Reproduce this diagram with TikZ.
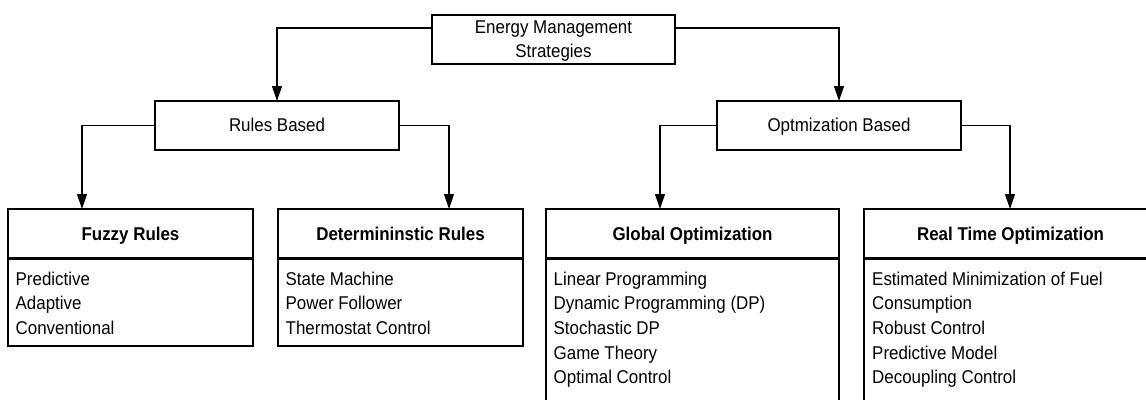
\documentclass[tikz,border=0pt]{standalone}
\usepackage{fontspec}
\setmainfont{Liberation Sans}[FakeStretch=0.915]
\usetikzlibrary{arrows.meta}
\begin{document}
\begin{tikzpicture}[x=1pt,y=-1pt,
  box/.style={draw=black, line width=1.2pt, inner sep=0pt, outer sep=0pt},
  lbl/.style={font=\fontsize{18.5pt}{24pt}\selectfont, inner sep=0pt, anchor=base},
  head/.style={font=\fontsize{18.5pt}{24pt}\selectfont\bfseries, inner sep=0pt, anchor=base},
  item/.style={font=\fontsize{18.5pt}{24pt}\selectfont, inner sep=0pt, anchor=base west},
  sepline/.style={line width=2.2pt},
  arr/.style={line width=1.2pt, -{Triangle[length=15pt,width=10pt]}}]
\useasboundingbox (0,0) rectangle (1146,399);
\clip (0,0) rectangle (1146,399);
% boxes
\node[box, minimum width=243pt, minimum height=49pt] (top) at (553.5,39.5) {};
\node[box, minimum width=244pt, minimum height=49pt] (rules) at (277,125.5) {};
\node[box, minimum width=244pt, minimum height=49pt] (opt) at (839,125.5) {};
\node[box, minimum width=245pt, minimum height=137pt] (fuzzy) at (130.5,277.5) {};
\node[box, minimum width=245pt, minimum height=137pt] (det) at (400.5,277.5) {};
\node[box, minimum width=293pt, minimum height=211pt] (glob) at (692.5,314.5) {};
\node[box, minimum width=293pt, minimum height=211pt] (rt) at (1010.5,314.5) {};
% header separators
\draw[sepline] (fuzzy.west |- 0,258.5) -- (fuzzy.east |- 0,258.5);
\draw[sepline] (det.west |- 0,258.5) -- (det.east |- 0,258.5);
\draw[sepline] (glob.west |- 0,258.5) -- (glob.east |- 0,258.5);
\draw[sepline] (rt.west |- 0,258.5) -- (rt.east |- 0,258.5);
% labels
\node[lbl] (t1) at (553.5,33.3) {Energy Management};
\node[lbl] (t2) at (553.5,57.3) {Strategies};
\node[lbl] (rl) at (277,131.5) {Rules Based};
\node[lbl] (ol) at (839,131.5) {Optmization Based};
\node[head] (fh) at (130.5,240.5) {Fuzzy Rules};
\node[head] (dh) at (400.5,240.5) {Determininstic Rules};
\node[head] (gh) at (692.5,240.5) {Global Optimization};
\node[head] (rh) at (1010.5,240.5) {Real Time Optimization};
% items
\foreach \t [count=\i] in {Predictive,Adaptive,Conventional}
  \node[item] (fi\i) at (15.5,{285+24.7*(\i-1)}) {\t};
\foreach \t [count=\i] in {State Machine,Power Follower,Thermostat Control}
  \node[item] (di\i) at (285.5,{285+24.7*(\i-1)}) {\t};
\foreach \t [count=\i] in {Linear Programming,Dynamic Programming (DP),Stochastic DP,Game Theory,Optimal Control}
  \node[item] (gi\i) at (553.5,{285+24.7*(\i-1)}) {\t};
\foreach \t [count=\i] in {Estimated Minimization of Fuel,Consumption,Robust Control,Predictive Model,Decoupling Control}
  \node[item] (ri\i) at (872,{285+24.7*(\i-1)}) {\t};
% connectors
\draw[arr] ([yshift=11.5pt]top.west) -| (rules.north);
\draw[arr] ([yshift=11.5pt]top.east) -| (opt.north);
\draw[arr] (rules.west) -| ([xshift=-48.5pt]fuzzy.north);
\draw[arr] (rules.east) -| ([xshift=48.5pt]det.north);
\draw[arr] (opt.west) -| ([xshift=-32.5pt]glob.north);
\draw[arr] (opt.east) -| ([xshift=-0.5pt]rt.north);
\end{tikzpicture}
\end{document}
